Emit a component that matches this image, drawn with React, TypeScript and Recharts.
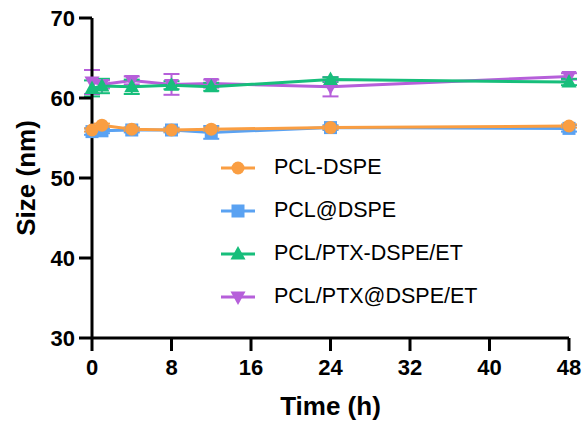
import React from 'react';
import { LineChart, Line, XAxis, YAxis, ErrorBar } from 'recharts';

const times = [0, 1, 4, 8, 12, 24, 48];

const pclDspe = [56.0, 56.6, 56.1, 56.0, 56.1, 56.3, 56.5];
const pclDspeErr = [0.2, 0.2, 0.2, 0.2, 0.2, 0.2, 0.2];
const pclAtDspe = [55.8, 55.9, 56.0, 56.0, 55.7, 56.3, 56.2];
const pclAtDspeErr = [0.4, 0.3, 0.3, 0.3, 0.8, 0.3, 0.4];
const ptxDspe = [61.2, 61.5, 61.4, 61.6, 61.4, 62.3, 62.0];
const ptxDspeErr = [1.0, 0.9, 0.9, 0.5, 0.5, 0.3, 0.4];
const ptxAtDspe = [62.0, 61.7, 62.2, 61.7, 61.8, 61.4, 62.7];
const ptxAtDspeErr = [1.5, 0.5, 0.5, 1.3, 0.5, 1.2, 0.4];

const xTicks = [0, 8, 16, 24, 32, 40, 48];
const yTicks = [30, 40, 50, 60, 70];

const series = [
  { key: 'a', name: 'PCL-DSPE', values: pclDspe, errs: pclDspeErr, color: '#FA9E42', shape: 'circle' },
  { key: 'b', name: 'PCL@DSPE', values: pclAtDspe, errs: pclAtDspeErr, color: '#5AA2F2', shape: 'square' },
  { key: 'c', name: 'PCL/PTX-DSPE/ET', values: ptxDspe, errs: ptxDspeErr, color: '#17BE7B', shape: 'up' },
  { key: 'd', name: 'PCL/PTX@DSPE/ET', values: ptxAtDspe, errs: ptxAtDspeErr, color: '#B65FDA', shape: 'down' },
];

const data = times.map((t, i) => {
  const row: any = { t };
  series.forEach((s) => {
    row[s.key] = s.values[i];
    row[s.key + 'Err'] = s.errs[i];
  });
  return row;
});

const FONT = '"Liberation Sans", Arial, sans-serif';

const Marker = ({ cx, cy, shape, color }: any) => {
  if (cx == null || cy == null) return null;
  if (shape === 'circle') return <circle cx={cx} cy={cy} r={6.5} fill={color} />;
  if (shape === 'square') return <rect x={cx - 6.5} y={cy - 6.5} width={13} height={13} fill={color} />;
  if (shape === 'up')
    return <polygon points={`${cx},${cy - 8} ${cx - 7.5},${cy + 5.5} ${cx + 7.5},${cy + 5.5}`} fill={color} />;
  return <polygon points={`${cx},${cy + 8} ${cx - 7.5},${cy - 5.5} ${cx + 7.5},${cy - 5.5}`} fill={color} />;
};

const drawOrder = ['d', 'c', 'b', 'a'];

export default function App() {
  return (
    <div style={{ position: 'absolute', left: 0, top: 0, width: 586, height: 426, background: '#fff', fontFamily: FONT }}>
      <LineChart width={586} height={426} data={data} margin={{ top: 18, right: 17, bottom: 8, left: 18 }}>
        <XAxis
          dataKey="t"
          type="number"
          domain={[0, 48]}
          ticks={xTicks}
          interval={0}
          height={80}
          stroke="#000"
          axisLine={{ strokeWidth: 3 }}
          tickLine={{ strokeWidth: 3 }}
          tickSize={13}
          tickMargin={8}
          tick={{ fill: '#000', fontSize: 22, fontWeight: 'bold', fontFamily: FONT }}
          label={{ value: 'Time (h)', position: 'insideBottom', offset: 3, fill: '#000', fontSize: 26, fontWeight: 'bold', fontFamily: FONT }}
        />
        <YAxis
          type="number"
          domain={[30, 70]}
          ticks={yTicks}
          interval={0}
          width={74}
          stroke="#000"
          axisLine={{ strokeWidth: 3 }}
          tickLine={{ strokeWidth: 3 }}
          tickSize={13}
          tickMargin={4}
          tick={{ fill: '#000', fontSize: 22, fontWeight: 'bold', fontFamily: FONT }}
          label={{
            value: 'Size (nm)',
            angle: -90,
            position: 'insideLeft',
            offset: 8,
            fill: '#000',
            fontSize: 26,
            fontWeight: 'bold',
            fontFamily: FONT,
            style: { textAnchor: 'middle' },
          }}
        />
        {drawOrder.map((k) => {
          const s = series.find((x) => x.key === k)!;
          return (
            <Line
              key={s.key}
              dataKey={s.key}
              name={s.name}
              type="linear"
              stroke={s.color}
              strokeWidth={3}
              isAnimationActive={false}
              dot={(p: any) => <Marker key={p.key ?? p.index} cx={p.cx} cy={p.cy} shape={s.shape} color={s.color} />}
              activeDot={false}
            >
              <ErrorBar dataKey={s.key + 'Err'} direction="y" width={8} strokeWidth={2} stroke={s.color} />
            </Line>
          );
        })}
      </LineChart>
      <div style={{ position: 'absolute', left: 219, top: 146 }}>
        {series.map((s) => (
          <div key={s.key} style={{ display: 'flex', alignItems: 'center', height: 43 }}>
            <svg width={38} height={20} style={{ marginRight: 17 }}>
              <line x1={2} y1={10} x2={36} y2={10} stroke={s.color} strokeWidth={3} />
              <Marker cx={19} cy={10} shape={s.shape} color={s.color} />
            </svg>
            <span style={{ fontSize: 21.5, color: '#000', fontFamily: FONT }}>{s.name}</span>
          </div>
        ))}
      </div>
    </div>
  );
}
